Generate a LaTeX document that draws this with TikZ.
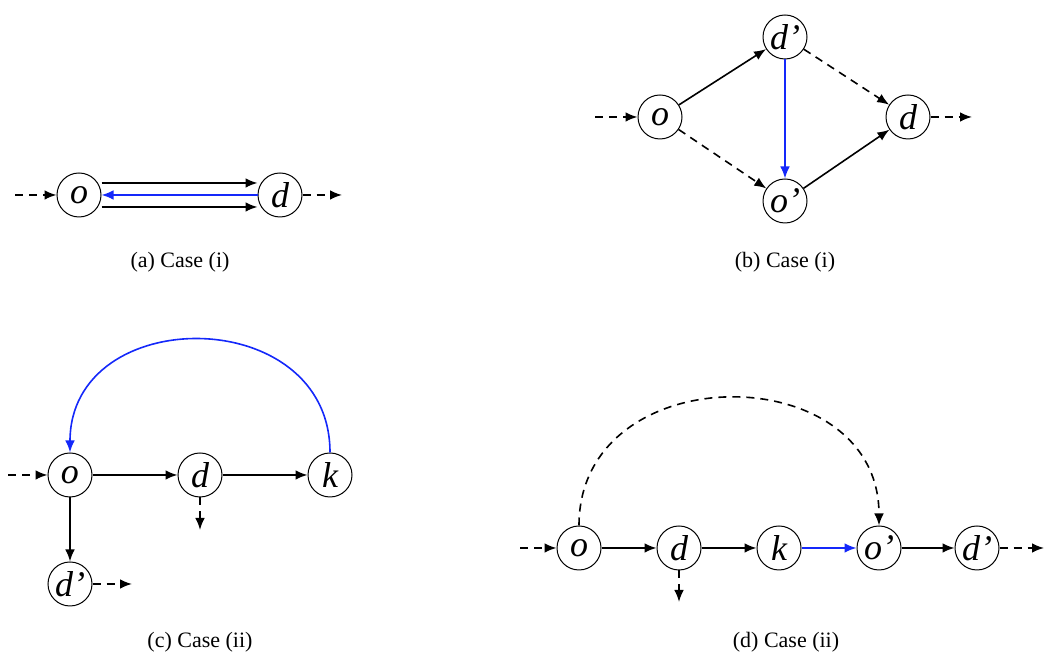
\documentclass[tikz,border=0pt]{standalone}
\usepackage{fontspec}
\setmainfont{Liberation Serif}
\usetikzlibrary{arrows.meta,positioning}
\definecolor{route}{RGB}{20,40,250}
\tikzset{
  >={Latex[length=6pt,width=4.8pt]},
  station/.style={circle,draw=black,line width=0.5pt,minimum size=22pt,inner sep=0pt,
    font=\fontsize{18}{20}\selectfont\itshape},
  flow/.style={->,line width=0.8pt,draw=#1},
  flow/.default=black,
  ghost/.style={->,line width=0.8pt,dash pattern=on 4pt off 3pt},
  tag/.style={font=\fontsize{11}{13}\selectfont}
}
\begin{document}
\begin{tikzpicture}[x=0.5pt,y=0.5pt]
  \useasboundingbox (0,0) rectangle (1045,668);
  % (a)
  \node[station] (ao) at (79,473) {o};
  \node[station] (ad) at (280,473) {d};
  \coordinate (ain) at (15,473);
  \coordinate (aout) at (342,473);
  \draw[ghost] (ain) -- (ao);
  \draw[ghost] (ad) -- (aout);
  \draw[flow] ([yshift=6pt]ao.east) -- ([yshift=6pt]ad.west);
  \draw[flow=route] (ad.west) -- (ao.east);
  \draw[flow] ([yshift=-6pt]ao.east) -- ([yshift=-6pt]ad.west);
  \node[tag] (acap) at (180,406) {(a) Case (i)};
  % (b)
  \node[station] (bo) at (660,551) {o};
  \node[station] (bdp) at (785,631) {d'};
  \node[station] (bop) at (785,467) {o'};
  \node[station] (bd) at (908,551) {d};
  \coordinate (bin) at (595,551);
  \coordinate (bout) at (972,551);
  \draw[ghost] (bin) -- (bo);
  \draw[ghost] (bd) -- (bout);
  \draw[flow] (bo) -- (bdp);
  \draw[ghost] (bdp) -- (bd);
  \draw[ghost] (bo) -- (bop);
  \draw[flow] (bop) -- (bd);
  \draw[flow=route] (bdp) -- (bop);
  \node[tag] (bcap) at (785,406) {(b) Case (i)};
  % (c)
  \node[station] (co) at (70,193) {o};
  \node[station] (cd) at (200,193) {d};
  \node[station] (ck) at (330,193) {k};
  \node[station] (cdp) at (70,84) {d'};
  \coordinate (cin) at (8,193);
  \coordinate (cdown) at (200,138);
  \coordinate (cout) at (132,84);
  \draw[ghost] (cin) -- (co);
  \draw[flow] (co) -- (cd);
  \draw[flow] (cd) -- (ck);
  \draw[flow] (co) -- (cdp);
  \draw[ghost] (cd) -- (cdown);
  \draw[ghost] (cdp) -- (cout);
  \draw[flow=route] (ck.north) to[out=90,in=90,looseness=1.48] (co.north);
  \node[tag] (ccap) at (200,26) {(c) Case (ii)};
  % (d)
  \node[station] (do) at (579,120) {o};
  \node[station] (dd) at (679,120) {d};
  \node[station] (dk) at (779,120) {k};
  \node[station] (dop) at (879,120) {o'};
  \node[station] (ddp) at (977,120) {d'};
  \coordinate (din) at (520,120);
  \coordinate (ddown) at (679,66);
  \coordinate (dout) at (1044,120);
  \draw[ghost] (din) -- (do);
  \draw[flow] (do) -- (dd);
  \draw[flow] (dd) -- (dk);
  \draw[flow=route] (dk) -- (dop);
  \draw[flow] (dop) -- (ddp);
  \draw[ghost] (dd) -- (ddown);
  \draw[ghost] (ddp) -- (dout);
  \draw[ghost] (do.north) to[out=90,in=90,looseness=1.45] (dop.north);
  \node[tag] (dcap) at (786,26) {(d) Case (ii)};
\end{tikzpicture}
\end{document}
